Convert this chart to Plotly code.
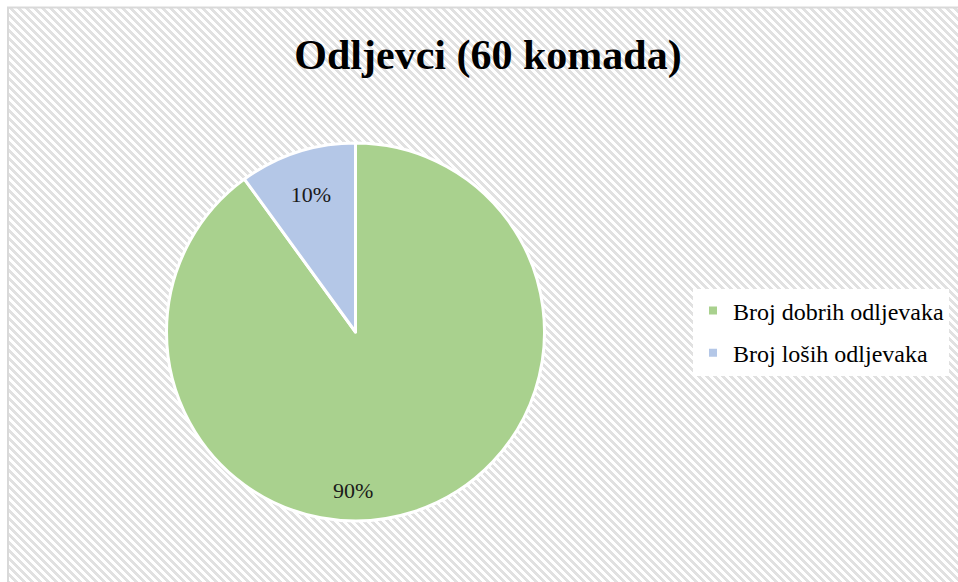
import base64
import plotly.graph_objects as go

# ---- data ----
labels = ["Broj dobrih odljevaka", "Broj loših odljevaka"]
values = [54, 6]
colors = ["#A9D18E", "#B4C7E7"]
title_text = "Odljevci (60 komada)"

W, H = 958, 582
total = sum(values)
pct = [f"{round(100 * v / total)}%" for v in values]

# hatch background (Excel "wide downward diagonal") as an SVG pattern image
bg_w, bg_h = W - 9, H - 8
rects = []
for r in range(8):
    rects.append(f'<rect x="{r}" y="{r}" width="4" height="1"/>')
    rects.append(f'<rect x="{r-8}" y="{r}" width="4" height="1"/>')
svg = (
    f'<svg xmlns="http://www.w3.org/2000/svg" width="{bg_w}" height="{bg_h}" '
    f'viewBox="0 0 {bg_w} {bg_h}" shape-rendering="crispEdges">'
    '<defs><pattern id="p" width="8" height="8" patternUnits="userSpaceOnUse">'
    '<rect width="8" height="8" fill="#ffffff"/>'
    '<g fill="#e1e1e1">' + "".join(rects) + '</g></pattern></defs>'
    f'<rect width="{bg_w}" height="{bg_h}" fill="url(#p)"/></svg>'
)
src = "data:image/svg+xml;base64," + base64.b64encode(svg.encode()).decode()

fig = go.Figure()

fig.add_trace(go.Pie(
    labels=labels,
    values=values,
    sort=False,
    direction="clockwise",
    rotation=0,
    marker=dict(colors=colors, line=dict(color="#ffffff", width=3)),
    texttemplate=["", "%{percent:.0%}"],
    textposition="inside",
    insidetextorientation="horizontal",
    textfont=dict(family="Liberation Serif", size=22, color="#1a1a1a"),
    hoverinfo="label+value+percent",
    showlegend=False,
    domain=dict(x=[166 / W, 545 / W], y=[(H - 521) / H, (H - 143) / H]),
))

# legend entries
for i, (lab, col) in enumerate(zip(labels, colors)):
    fig.add_trace(go.Scatter(
        x=[None], y=[None], mode="markers", name=lab,
        marker=dict(symbol="square", size=8, color=col),
        legendgroup=f"g{i}", showlegend=True, hoverinfo="skip",
    ))

fig.update_layout(
    width=W, height=H,
    margin=dict(l=0, r=0, t=0, b=0),
    paper_bgcolor="#ffffff",
    plot_bgcolor="rgba(0,0,0,0)",
    xaxis=dict(visible=False),
    yaxis=dict(visible=False),
    images=[dict(
        source=src, xref="paper", yref="paper",
        x=9 / W, y=(H - 8) / H, sizex=bg_w / W, sizey=bg_h / H,
        xanchor="left", yanchor="top", sizing="stretch", layer="below",
    )],
    shapes=[dict(
        type="rect", xref="paper", yref="paper",
        x0=8 / W, x1=1.05, y0=-0.05, y1=(H - 7.5) / H,
        line=dict(color="#d9d9d9", width=2), fillcolor="rgba(0,0,0,0)",
        layer="below",
    )],
    annotations=[dict(
        text=pct[0], xref="paper", yref="paper",
        x=353 / W, y=1 - 490 / H, xanchor="center", yanchor="middle",
        showarrow=False,
        font=dict(family="Liberation Serif", size=22, color="#1a1a1a"),
    )],
    title=dict(
        text=f"<b>{title_text}</b>",
        font=dict(family="Liberation Serif", size=42, color="#000000"),
        x=488 / W, xanchor="center",
        y=1 - 54 / H, yanchor="middle",
    ),
    legend=dict(
        x=693 / W, xanchor="left",
        y=1 - 332 / H, yanchor="middle",
        bgcolor="#ffffff",
        font=dict(family="Liberation Serif", size=24, color="#000000"),
        traceorder="grouped",
        tracegroupgap=8,
        itemclick=False,
    ),
)

fig.write_html("out.html")
